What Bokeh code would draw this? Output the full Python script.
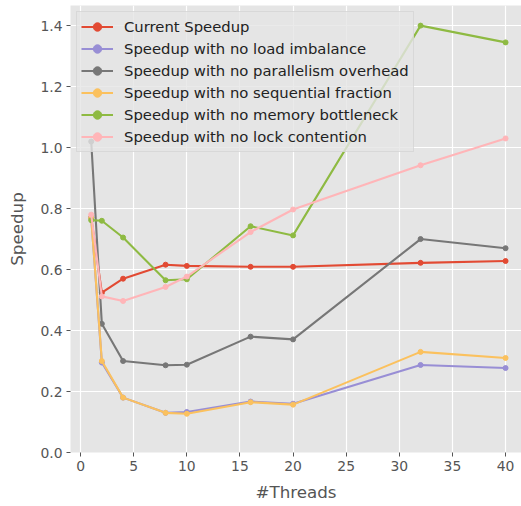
from bokeh.plotting import figure
from bokeh.models import FixedTicker, PrintfTickFormatter
from bokeh.embed import file_html
from bokeh.resources import INLINE

# Thread counts and measured speedups
threads = [1, 2, 4, 8, 10, 16, 20, 32, 40]
current = [0.77, 0.524, 0.570, 0.616, 0.612, 0.609, 0.609, 0.622, 0.628]
no_load_imbalance = [0.77, 0.295, 0.180, 0.130, 0.133, 0.167, 0.160, 0.287, 0.277]
no_parallel_overhead = [1.02, 0.422, 0.300, 0.286, 0.288, 0.380, 0.371, 0.700, 0.670]
no_sequential = [0.77, 0.300, 0.180, 0.130, 0.127, 0.165, 0.157, 0.330, 0.310]
no_memory = [0.762, 0.760, 0.705, 0.565, 0.568, 0.742, 0.712, 1.400, 1.345]
no_lock = [0.780, 0.512, 0.497, 0.543, 0.577, 0.723, 0.797, 0.942, 1.030]

labels = [
    "Current Speedup",
    "Speedup with no load imbalance",
    "Speedup with no parallelism overhead",
    "Speedup with no sequential fraction",
    "Speedup with no memory bottleneck",
    "Speedup with no lock contention",
]
series = [current, no_load_imbalance, no_parallel_overhead, no_sequential, no_memory, no_lock]
colors = ["#E24A33", "#988ED5", "#777777", "#FBC15E", "#8EBA42", "#FFB5B8"]

x_ticks = [0, 5, 10, 15, 20, 25, 30, 35, 40]
y_ticks = [0.0, 0.2, 0.4, 0.6, 0.8, 1.0, 1.2, 1.4]

FONT = "DejaVu Sans"
TXT = "#555555"

p = figure(
    width=521, height=506,
    x_range=(-0.95, 41.5), y_range=(0, 1.466),
    output_backend="svg", toolbar_location=None,
    min_border_left=70, min_border_right=0,
    min_border_top=5, min_border_bottom=54,
)
p.background_fill_color = "#E5E5E5"
p.border_fill_color = "white"
p.outline_line_color = None

for ys, lab, col in zip(series, labels, colors):
    p.line(threads, ys, line_color=col, line_width=2.1, legend_label=lab)
    p.scatter(threads, ys, size=5, fill_color=col, line_color=col, legend_label=lab)

p.xgrid.grid_line_color = "white"
p.ygrid.grid_line_color = "white"
p.xgrid.grid_line_width = 1.2
p.ygrid.grid_line_width = 1.2

p.xaxis.ticker = FixedTicker(ticks=x_ticks)
p.yaxis.ticker = FixedTicker(ticks=y_ticks)
p.yaxis.formatter = PrintfTickFormatter(format="%.1f")

for ax in (p.xaxis, p.yaxis):
    ax.axis_line_color = None
    ax.major_tick_line_color = TXT
    ax.major_tick_out = 4
    ax.major_tick_in = 0
    ax.minor_tick_line_color = None
    ax.major_label_text_font = FONT
    ax.major_label_text_font_size = "13.9px"
    ax.major_label_text_color = TXT
    ax.major_label_standoff = 4
    ax.axis_label_text_font = FONT
    ax.axis_label_text_font_size = "16.7px"
    ax.axis_label_text_color = TXT
    ax.axis_label_text_font_style = "normal"

p.xaxis.axis_label = "#Threads"
p.yaxis.axis_label = "Speedup"
p.xaxis.axis_label_standoff = 8
p.yaxis.axis_label_standoff = 10

lg = p.legend[0]
lg.location = "top_left"
lg.margin = 6
lg.padding = 4
lg.spacing = 1
lg.label_height = 21
lg.glyph_height = 21
lg.glyph_width = 32
lg.label_standoff = 11
lg.label_text_font = FONT
lg.label_text_font_size = "14.8px"
lg.label_text_color = "#222222"
lg.background_fill_color = "#E5E5E5"
lg.background_fill_alpha = 0.8
lg.border_line_color = "#CCCCCC"
lg.border_line_width = 1

open("out.html", "w").write(file_html(p, INLINE))
